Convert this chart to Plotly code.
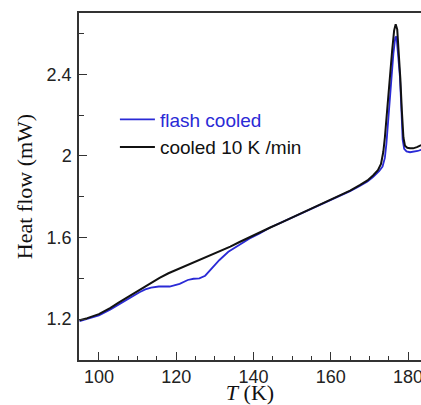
import plotly.graph_objects as go

# ---- data ----
black_T = [95.0, 97.0, 100.0, 103.0, 105.0, 108.0, 110.5, 113.0, 115.7, 118.0, 120.9, 123.5, 126.0,
           128.5, 131.2, 134.0, 136.4, 139.0, 141.6, 144.2, 147.0, 150.0, 153.0, 156.0, 159.0, 162.0,
           165.0, 167.5, 169.5, 171.0, 172.2, 173.0, 173.6, 174.0, 174.6, 175.3, 175.9, 176.4, 176.8,
           177.2, 177.6, 178.0, 178.4, 178.8, 179.2, 179.8, 180.5, 181.3, 182.3, 183.4]
black_Y = [1.195, 1.205, 1.225, 1.255, 1.28, 1.315, 1.342, 1.372, 1.402, 1.425, 1.448, 1.47, 1.49,
           1.51, 1.53, 1.555, 1.578, 1.60, 1.623, 1.648, 1.672, 1.698, 1.724, 1.750, 1.776, 1.802,
           1.830, 1.857, 1.88, 1.905, 1.93, 1.96, 2.02, 2.09, 2.24, 2.39, 2.52, 2.615, 2.645,
           2.62, 2.52, 2.38, 2.22, 2.09, 2.05, 2.04, 2.037, 2.037, 2.043, 2.053]

blue_T = [95.0, 97.0, 100.0, 103.0, 105.3, 108.0, 110.5, 112.0, 113.5, 115.5, 118.3, 120.9, 123.0,
          124.5, 126.0, 127.5, 129.0, 131.2, 133.5, 136.4, 139.0, 141.6, 144.2, 147.0, 150.0, 153.0,
          156.0, 159.0, 162.0, 165.0, 167.5, 169.5, 171.0, 172.5, 173.4, 174.0, 174.4, 175.0, 175.7,
          176.2, 176.7, 177.0, 177.4, 177.9, 178.3, 178.6, 179.0, 179.6, 180.5, 181.5, 182.5, 183.4]
blue_Y = [1.19, 1.20, 1.218, 1.248, 1.275, 1.305, 1.332, 1.346, 1.355, 1.36, 1.36, 1.373, 1.392,
          1.398, 1.40, 1.413, 1.443, 1.49, 1.53, 1.563, 1.595, 1.62, 1.648, 1.672, 1.698, 1.724,
          1.75, 1.775, 1.80, 1.827, 1.852, 1.875, 1.898, 1.925, 1.948, 1.99, 2.06, 2.22, 2.387,
          2.50, 2.58, 2.585, 2.50, 2.387, 2.22, 2.08, 2.035, 2.022, 2.018, 2.02, 2.024, 2.03]

series_names = ["flash cooled", "cooled 10 K /min"]
x_tickvals = [100, 120, 140, 160, 180]
x_ticktext = ["100", "120", "140", "160", "180"]
y_tickvals = [1.2, 1.6, 2.0, 2.4]
y_ticktext = ["1.2", "1.6", "2", "2.4"]

BLUE = "#2a2ad6"
AX = "#333333"

fig = go.Figure()
fig.add_trace(go.Scatter(x=blue_T, y=blue_Y, mode="lines",
                         line=dict(color=BLUE, width=1.8),
                         name=f"<span style='color:{BLUE}'>{series_names[0]}</span>"))
fig.add_trace(go.Scatter(x=black_T, y=black_Y, mode="lines",
                         line=dict(color="#111111", width=2),
                         name=series_names[1]))

fig.update_layout(
    width=421, height=405,
    margin=dict(l=79, r=0, t=13, b=45),
    paper_bgcolor="white", plot_bgcolor="white",
    showlegend=True,
    legend=dict(x=0.105, y=0.748, xanchor="left", yanchor="top",
                bgcolor="rgba(0,0,0,0)",
                font=dict(family="Liberation Sans", size=19, color="#111111"),
                tracegroupgap=0, itemwidth=35),
    font=dict(family="Liberation Sans", size=18, color="#222222"),
)

fig.update_xaxes(
    range=[94.85, 183.35], showgrid=False, zeroline=False, automargin=False,
    showline=True, linecolor=AX, linewidth=1.5, mirror=True,
    tickvals=x_tickvals, ticktext=x_ticktext,
    ticks="inside", ticklen=8, tickwidth=1.3, tickcolor=AX,
    ticklabelstandoff=0, ticklabeloverflow="allow",
    minor=dict(dtick=5, tick0=0, ticks="inside", ticklen=4, tickwidth=1.1, tickcolor=AX),
    tickfont=dict(family="Liberation Sans", size=18, color="#222222"),
    title=dict(text="<i>T</i> (K)", font=dict(family="Liberation Serif", size=22, color="#111111"),
               standoff=0),
)
fig.update_yaxes(
    range=[1.0, 2.7], showgrid=False, zeroline=False, automargin=False,
    showline=True, linecolor=AX, linewidth=1.5, mirror=False,
    tickvals=y_tickvals, ticktext=y_ticktext,
    ticks="inside", ticklen=8, tickwidth=1.3, tickcolor=AX,
    ticklabelstandoff=2,
    minor=dict(dtick=0.2, tick0=0, ticks="inside", ticklen=5, tickwidth=1.1, tickcolor=AX),
    tickfont=dict(family="Liberation Sans", size=18, color="#222222"),
    title=dict(text="Heat flow (mW)", font=dict(family="Liberation Serif", size=22, color="#111111"),
               standoff=8),
)

fig.write_html("out.html", config={"displayModeBar": False},
               post_script="document.body.style.margin='0';document.body.style.overflow='hidden';")
